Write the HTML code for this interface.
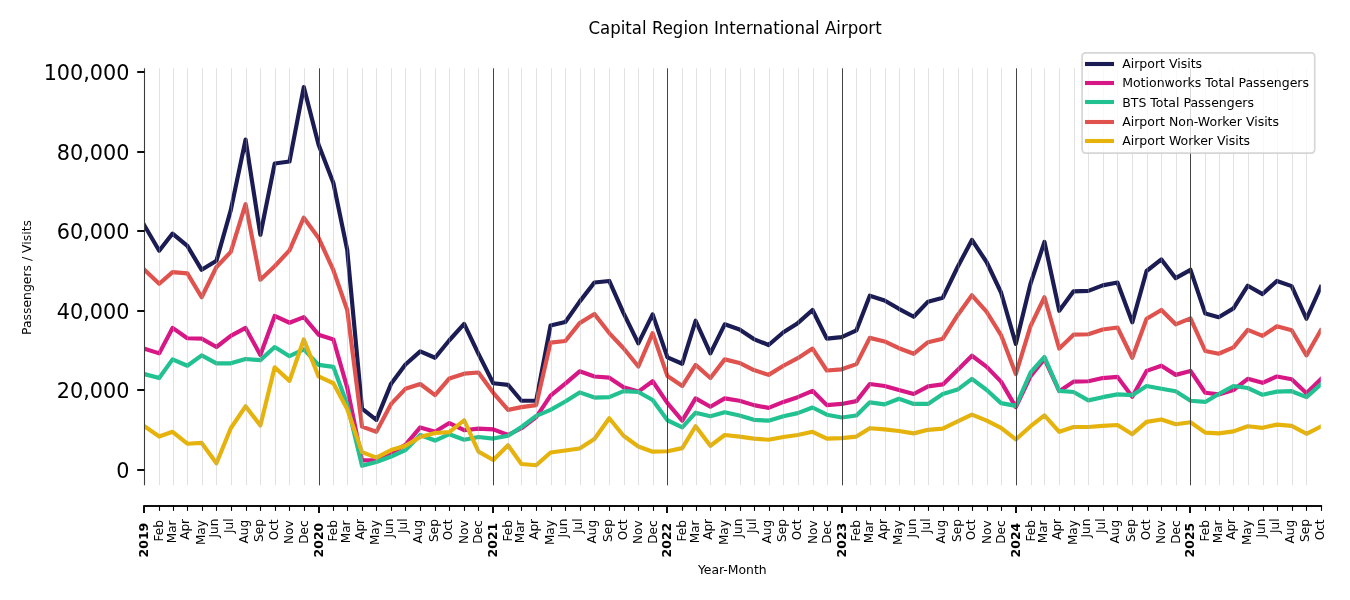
<!DOCTYPE html>
<html lang="en">
<head>
<meta charset="utf-8">
<title>Capital Region International Airport</title>
<style>
html,body{margin:0;padding:0;background:#fff;}
body{width:1350px;height:600px;overflow:hidden;}
svg{display:block;font-family:"DejaVu Sans", "Liberation Sans", sans-serif;}
text{fill:#000;}
.yt{font-size:20.78px;text-anchor:end;}
.xm{font-size:12.1px;text-anchor:end;}
.xM{font-size:12.5px;font-weight:bold;text-anchor:end;}
.lab{font-size:12.42px;text-anchor:middle;}
.ttl{font-size:16.58px;text-anchor:middle;}
.leg{font-size:12.5px;}
.ln{fill:none;stroke-width:4.17;stroke-linejoin:round;stroke-linecap:square;}
</style>
</head>
<body>
<svg width="1350" height="600" viewBox="0 0 1350 600">
<rect width="1350" height="600" fill="#fff"/>
<defs><clipPath id="ax"><rect x="144.4" y="68.3" width="1176.3799999999999" height="417.0"/></clipPath></defs>

<g clip-path="url(#ax)">
<polyline class="ln" stroke="#1c1c55" points="144.40,225.43 159.19,250.70 172.56,233.59 187.35,245.93 201.67,269.81 216.46,260.65 230.78,210.11 245.57,139.66 260.37,234.78 274.68,163.54 289.48,161.55 303.80,87.12 318.59,144.83 333.38,183.04 347.22,249.91 362.02,408.71 376.34,419.85 391.13,383.63 405.45,364.53 420.24,351.40 435.04,357.76 449.35,340.25 464.15,323.93 478.46,353.78 493.26,383.24 508.05,384.83 521.41,400.75 536.21,400.75 550.53,325.53 565.32,321.94 579.64,301.65 594.43,282.54 609.23,280.95 623.54,313.19 638.34,343.44 652.65,314.38 667.45,357.37 682.24,363.73 695.60,320.75 710.40,353.39 724.72,324.33 739.51,329.51 753.83,339.06 768.62,345.03 783.42,332.29 797.73,323.14 812.53,310.00 826.84,338.66 841.64,337.07 856.43,330.30 869.79,295.68 884.59,300.45 898.91,308.81 913.70,316.77 928.02,301.65 942.81,297.67 957.61,267.02 971.92,239.96 986.72,262.24 1001.03,292.49 1015.83,343.83 1030.62,283.34 1044.46,241.95 1059.26,310.80 1073.57,291.30 1088.37,290.90 1102.68,285.33 1117.48,282.54 1132.27,322.34 1146.59,271.00 1161.38,259.46 1175.70,278.16 1190.50,269.81 1205.29,313.59 1218.65,317.17 1233.45,308.41 1247.76,285.73 1262.56,294.08 1276.87,280.95 1291.67,286.12 1306.46,318.76 1320.78,286.92"/>
<polyline class="ln" stroke="#d71785" points="144.40,348.61 159.19,353.39 172.56,327.91 187.35,338.26 201.67,338.66 216.46,347.02 230.78,335.87 245.57,327.91 260.37,354.98 274.68,315.97 289.48,322.74 303.80,317.17 318.59,334.68 333.38,339.46 347.22,387.61 362.02,460.45 376.34,460.05 391.13,452.89 405.45,444.93 420.24,427.41 435.04,431.79 449.35,423.04 464.15,430.20 478.46,428.61 493.26,429.40 508.05,434.98 521.41,428.21 536.21,417.07 550.53,395.57 565.32,383.63 579.64,371.30 594.43,376.47 609.23,377.66 623.54,387.22 638.34,391.59 652.65,381.25 667.45,403.14 682.24,420.65 695.60,398.36 710.40,406.72 724.72,398.36 739.51,400.75 753.83,405.13 768.62,407.91 783.42,401.94 797.73,397.17 812.53,390.80 826.84,405.13 841.64,403.93 856.43,401.15 869.79,384.03 884.59,386.02 898.91,390.00 913.70,393.98 928.02,386.42 942.81,384.43 957.61,370.10 971.92,355.77 986.72,366.92 1001.03,381.64 1015.83,407.12 1030.62,376.07 1044.46,358.96 1059.26,391.20 1073.57,381.64 1088.37,381.25 1102.68,378.06 1117.48,376.87 1132.27,396.77 1146.59,370.90 1161.38,365.72 1175.70,374.88 1190.50,370.90 1205.29,392.79 1218.65,394.38 1233.45,390.00 1247.76,378.86 1262.56,382.84 1276.87,376.47 1291.67,379.26 1306.46,393.19 1320.78,379.26"/>
<polyline class="ln" stroke="#22c191" points="144.40,374.08 159.19,378.06 172.56,359.36 187.35,365.72 201.67,355.38 216.46,363.34 230.78,363.34 245.57,358.96 260.37,360.15 274.68,347.02 289.48,356.17 303.80,349.41 318.59,364.93 333.38,366.92 347.22,404.33 362.02,465.82 376.34,462.04 391.13,456.47 405.45,450.10 420.24,434.98 435.04,440.55 449.35,434.18 464.15,439.75 478.46,436.97 493.26,438.56 508.05,435.77 521.41,427.02 536.21,415.87 550.53,409.90 565.32,401.54 579.64,392.39 594.43,397.56 609.23,397.17 623.54,391.20 638.34,391.99 652.65,399.95 667.45,420.25 682.24,427.41 695.60,412.69 710.40,416.27 724.72,412.29 739.51,415.47 753.83,419.85 768.62,420.65 783.42,416.27 797.73,413.09 812.53,407.51 826.84,414.68 841.64,417.46 856.43,415.47 869.79,402.34 884.59,404.33 898.91,398.76 913.70,403.93 928.02,403.93 942.81,393.98 957.61,389.60 971.92,378.86 986.72,390.00 1001.03,403.14 1015.83,405.92 1030.62,372.49 1044.46,356.97 1059.26,390.80 1073.57,391.99 1088.37,400.35 1102.68,397.17 1117.48,394.38 1132.27,395.18 1146.59,386.02 1161.38,388.81 1175.70,391.20 1190.50,400.75 1205.29,401.94 1218.65,393.98 1233.45,386.02 1247.76,388.01 1262.56,394.78 1276.87,391.59 1291.67,391.20 1306.46,397.17 1320.78,384.43"/>
<polyline class="ln" stroke="#df524d" points="144.40,269.81 159.19,283.74 172.56,272.19 187.35,273.39 201.67,297.27 216.46,267.02 230.78,251.90 245.57,204.14 260.37,279.76 274.68,266.22 289.48,250.30 303.80,217.67 318.59,237.97 333.38,270.20 347.22,310.00 362.02,426.62 376.34,431.79 391.13,403.93 405.45,388.81 420.24,384.03 435.04,395.18 449.35,378.46 464.15,373.68 478.46,372.49 493.26,392.79 508.05,409.90 521.41,407.12 536.21,405.13 550.53,342.64 565.32,341.05 579.64,323.14 594.43,313.98 609.23,333.09 623.54,348.21 638.34,366.52 652.65,333.09 667.45,376.07 682.24,386.02 695.60,364.93 710.40,378.06 724.72,359.36 739.51,362.94 753.83,370.10 768.62,374.88 783.42,365.72 797.73,358.16 812.53,348.61 826.84,370.50 841.64,369.31 856.43,364.13 869.79,337.86 884.59,341.45 898.91,348.21 913.70,353.78 928.02,342.24 942.81,338.66 957.61,315.18 971.92,295.28 986.72,311.99 1001.03,335.08 1015.83,374.08 1030.62,325.92 1044.46,297.27 1059.26,348.61 1073.57,334.68 1088.37,334.28 1102.68,329.51 1117.48,327.52 1132.27,357.76 1146.59,318.76 1161.38,310.00 1175.70,324.33 1190.50,318.36 1205.29,351.00 1218.65,353.78 1233.45,347.42 1247.76,329.90 1262.56,335.87 1276.87,326.32 1291.67,330.30 1306.46,355.38 1320.78,330.30"/>
<polyline class="ln" stroke="#e6b30c" points="144.40,426.22 159.19,436.57 172.56,431.79 187.35,443.73 201.67,442.94 216.46,463.23 230.78,428.21 245.57,406.32 260.37,425.42 274.68,367.32 289.48,380.85 303.80,339.46 318.59,376.47 333.38,383.24 347.22,409.11 362.02,452.09 376.34,457.66 391.13,450.10 405.45,445.72 420.24,436.97 435.04,432.99 449.35,432.19 464.15,420.25 478.46,451.69 493.26,460.05 508.05,445.32 521.41,464.03 536.21,465.22 550.53,452.49 565.32,450.50 579.64,448.51 594.43,438.96 609.23,418.26 623.54,435.77 638.34,446.52 652.65,451.69 667.45,451.29 682.24,448.11 695.60,426.22 710.40,445.72 724.72,434.98 739.51,436.57 753.83,438.56 768.62,439.75 783.42,436.97 797.73,434.98 812.53,431.79 826.84,438.56 841.64,438.16 856.43,436.57 869.79,428.21 884.59,429.40 898.91,431.00 913.70,433.38 928.02,429.80 942.81,428.61 957.61,421.44 971.92,414.68 986.72,420.65 1001.03,427.81 1015.83,439.35 1030.62,426.22 1044.46,415.47 1059.26,431.79 1073.57,427.02 1088.37,427.02 1102.68,425.82 1117.48,425.03 1132.27,434.18 1146.59,421.84 1161.38,419.45 1175.70,424.23 1190.50,422.24 1205.29,432.59 1218.65,433.38 1233.45,431.39 1247.76,426.22 1262.56,427.81 1276.87,424.63 1291.67,425.82 1306.46,433.78 1320.78,426.62"/>
</g>
<g id="grid">
<line x1="159.5" x2="159.5" y1="68.3" y2="485.3" stroke="#b0b0b0" stroke-width="1" stroke-opacity="0.36"/>
<line x1="173.5" x2="173.5" y1="68.3" y2="485.3" stroke="#b0b0b0" stroke-width="1" stroke-opacity="0.36"/>
<line x1="187.5" x2="187.5" y1="68.3" y2="485.3" stroke="#b0b0b0" stroke-width="1" stroke-opacity="0.36"/>
<line x1="202.5" x2="202.5" y1="68.3" y2="485.3" stroke="#b0b0b0" stroke-width="1" stroke-opacity="0.36"/>
<line x1="216.5" x2="216.5" y1="68.3" y2="485.3" stroke="#b0b0b0" stroke-width="1" stroke-opacity="0.36"/>
<line x1="231.5" x2="231.5" y1="68.3" y2="485.3" stroke="#b0b0b0" stroke-width="1" stroke-opacity="0.36"/>
<line x1="246.5" x2="246.5" y1="68.3" y2="485.3" stroke="#b0b0b0" stroke-width="1" stroke-opacity="0.36"/>
<line x1="260.5" x2="260.5" y1="68.3" y2="485.3" stroke="#b0b0b0" stroke-width="1" stroke-opacity="0.36"/>
<line x1="275.5" x2="275.5" y1="68.3" y2="485.3" stroke="#b0b0b0" stroke-width="1" stroke-opacity="0.36"/>
<line x1="289.5" x2="289.5" y1="68.3" y2="485.3" stroke="#b0b0b0" stroke-width="1" stroke-opacity="0.36"/>
<line x1="304.5" x2="304.5" y1="68.3" y2="485.3" stroke="#b0b0b0" stroke-width="1" stroke-opacity="0.36"/>
<line x1="319.5" x2="319.5" y1="68.3" y2="485.3" stroke="#444" stroke-width="1"/>
<line x1="333.5" x2="333.5" y1="68.3" y2="485.3" stroke="#b0b0b0" stroke-width="1" stroke-opacity="0.36"/>
<line x1="347.5" x2="347.5" y1="68.3" y2="485.3" stroke="#b0b0b0" stroke-width="1" stroke-opacity="0.36"/>
<line x1="362.5" x2="362.5" y1="68.3" y2="485.3" stroke="#b0b0b0" stroke-width="1" stroke-opacity="0.36"/>
<line x1="376.5" x2="376.5" y1="68.3" y2="485.3" stroke="#b0b0b0" stroke-width="1" stroke-opacity="0.36"/>
<line x1="391.5" x2="391.5" y1="68.3" y2="485.3" stroke="#b0b0b0" stroke-width="1" stroke-opacity="0.36"/>
<line x1="405.5" x2="405.5" y1="68.3" y2="485.3" stroke="#b0b0b0" stroke-width="1" stroke-opacity="0.36"/>
<line x1="420.5" x2="420.5" y1="68.3" y2="485.3" stroke="#b0b0b0" stroke-width="1" stroke-opacity="0.36"/>
<line x1="435.5" x2="435.5" y1="68.3" y2="485.3" stroke="#b0b0b0" stroke-width="1" stroke-opacity="0.36"/>
<line x1="449.5" x2="449.5" y1="68.3" y2="485.3" stroke="#b0b0b0" stroke-width="1" stroke-opacity="0.36"/>
<line x1="464.5" x2="464.5" y1="68.3" y2="485.3" stroke="#b0b0b0" stroke-width="1" stroke-opacity="0.36"/>
<line x1="478.5" x2="478.5" y1="68.3" y2="485.3" stroke="#b0b0b0" stroke-width="1" stroke-opacity="0.36"/>
<line x1="493.5" x2="493.5" y1="68.3" y2="485.3" stroke="#444" stroke-width="1"/>
<line x1="508.5" x2="508.5" y1="68.3" y2="485.3" stroke="#b0b0b0" stroke-width="1" stroke-opacity="0.36"/>
<line x1="521.5" x2="521.5" y1="68.3" y2="485.3" stroke="#b0b0b0" stroke-width="1" stroke-opacity="0.36"/>
<line x1="536.5" x2="536.5" y1="68.3" y2="485.3" stroke="#b0b0b0" stroke-width="1" stroke-opacity="0.36"/>
<line x1="551.5" x2="551.5" y1="68.3" y2="485.3" stroke="#b0b0b0" stroke-width="1" stroke-opacity="0.36"/>
<line x1="565.5" x2="565.5" y1="68.3" y2="485.3" stroke="#b0b0b0" stroke-width="1" stroke-opacity="0.36"/>
<line x1="580.5" x2="580.5" y1="68.3" y2="485.3" stroke="#b0b0b0" stroke-width="1" stroke-opacity="0.36"/>
<line x1="594.5" x2="594.5" y1="68.3" y2="485.3" stroke="#b0b0b0" stroke-width="1" stroke-opacity="0.36"/>
<line x1="609.5" x2="609.5" y1="68.3" y2="485.3" stroke="#b0b0b0" stroke-width="1" stroke-opacity="0.36"/>
<line x1="624.5" x2="624.5" y1="68.3" y2="485.3" stroke="#b0b0b0" stroke-width="1" stroke-opacity="0.36"/>
<line x1="638.5" x2="638.5" y1="68.3" y2="485.3" stroke="#b0b0b0" stroke-width="1" stroke-opacity="0.36"/>
<line x1="653.5" x2="653.5" y1="68.3" y2="485.3" stroke="#b0b0b0" stroke-width="1" stroke-opacity="0.36"/>
<line x1="667.5" x2="667.5" y1="68.3" y2="485.3" stroke="#444" stroke-width="1"/>
<line x1="682.5" x2="682.5" y1="68.3" y2="485.3" stroke="#b0b0b0" stroke-width="1" stroke-opacity="0.36"/>
<line x1="696.5" x2="696.5" y1="68.3" y2="485.3" stroke="#b0b0b0" stroke-width="1" stroke-opacity="0.36"/>
<line x1="710.5" x2="710.5" y1="68.3" y2="485.3" stroke="#b0b0b0" stroke-width="1" stroke-opacity="0.36"/>
<line x1="725.5" x2="725.5" y1="68.3" y2="485.3" stroke="#b0b0b0" stroke-width="1" stroke-opacity="0.36"/>
<line x1="740.5" x2="740.5" y1="68.3" y2="485.3" stroke="#b0b0b0" stroke-width="1" stroke-opacity="0.36"/>
<line x1="754.5" x2="754.5" y1="68.3" y2="485.3" stroke="#b0b0b0" stroke-width="1" stroke-opacity="0.36"/>
<line x1="769.5" x2="769.5" y1="68.3" y2="485.3" stroke="#b0b0b0" stroke-width="1" stroke-opacity="0.36"/>
<line x1="783.5" x2="783.5" y1="68.3" y2="485.3" stroke="#b0b0b0" stroke-width="1" stroke-opacity="0.36"/>
<line x1="798.5" x2="798.5" y1="68.3" y2="485.3" stroke="#b0b0b0" stroke-width="1" stroke-opacity="0.36"/>
<line x1="813.5" x2="813.5" y1="68.3" y2="485.3" stroke="#b0b0b0" stroke-width="1" stroke-opacity="0.36"/>
<line x1="827.5" x2="827.5" y1="68.3" y2="485.3" stroke="#b0b0b0" stroke-width="1" stroke-opacity="0.36"/>
<line x1="842.5" x2="842.5" y1="68.3" y2="485.3" stroke="#444" stroke-width="1"/>
<line x1="856.5" x2="856.5" y1="68.3" y2="485.3" stroke="#b0b0b0" stroke-width="1" stroke-opacity="0.36"/>
<line x1="870.5" x2="870.5" y1="68.3" y2="485.3" stroke="#b0b0b0" stroke-width="1" stroke-opacity="0.36"/>
<line x1="885.5" x2="885.5" y1="68.3" y2="485.3" stroke="#b0b0b0" stroke-width="1" stroke-opacity="0.36"/>
<line x1="899.5" x2="899.5" y1="68.3" y2="485.3" stroke="#b0b0b0" stroke-width="1" stroke-opacity="0.36"/>
<line x1="914.5" x2="914.5" y1="68.3" y2="485.3" stroke="#b0b0b0" stroke-width="1" stroke-opacity="0.36"/>
<line x1="928.5" x2="928.5" y1="68.3" y2="485.3" stroke="#b0b0b0" stroke-width="1" stroke-opacity="0.36"/>
<line x1="943.5" x2="943.5" y1="68.3" y2="485.3" stroke="#b0b0b0" stroke-width="1" stroke-opacity="0.36"/>
<line x1="958.5" x2="958.5" y1="68.3" y2="485.3" stroke="#b0b0b0" stroke-width="1" stroke-opacity="0.36"/>
<line x1="972.5" x2="972.5" y1="68.3" y2="485.3" stroke="#b0b0b0" stroke-width="1" stroke-opacity="0.36"/>
<line x1="987.5" x2="987.5" y1="68.3" y2="485.3" stroke="#b0b0b0" stroke-width="1" stroke-opacity="0.36"/>
<line x1="1001.5" x2="1001.5" y1="68.3" y2="485.3" stroke="#b0b0b0" stroke-width="1" stroke-opacity="0.36"/>
<line x1="1016.5" x2="1016.5" y1="68.3" y2="485.3" stroke="#444" stroke-width="1"/>
<line x1="1031.5" x2="1031.5" y1="68.3" y2="485.3" stroke="#b0b0b0" stroke-width="1" stroke-opacity="0.36"/>
<line x1="1044.5" x2="1044.5" y1="68.3" y2="485.3" stroke="#b0b0b0" stroke-width="1" stroke-opacity="0.36"/>
<line x1="1059.5" x2="1059.5" y1="68.3" y2="485.3" stroke="#b0b0b0" stroke-width="1" stroke-opacity="0.36"/>
<line x1="1074.5" x2="1074.5" y1="68.3" y2="485.3" stroke="#b0b0b0" stroke-width="1" stroke-opacity="0.36"/>
<line x1="1088.5" x2="1088.5" y1="68.3" y2="485.3" stroke="#b0b0b0" stroke-width="1" stroke-opacity="0.36"/>
<line x1="1103.5" x2="1103.5" y1="68.3" y2="485.3" stroke="#b0b0b0" stroke-width="1" stroke-opacity="0.36"/>
<line x1="1117.5" x2="1117.5" y1="68.3" y2="485.3" stroke="#b0b0b0" stroke-width="1" stroke-opacity="0.36"/>
<line x1="1132.5" x2="1132.5" y1="68.3" y2="485.3" stroke="#b0b0b0" stroke-width="1" stroke-opacity="0.36"/>
<line x1="1147.5" x2="1147.5" y1="68.3" y2="485.3" stroke="#b0b0b0" stroke-width="1" stroke-opacity="0.36"/>
<line x1="1161.5" x2="1161.5" y1="68.3" y2="485.3" stroke="#b0b0b0" stroke-width="1" stroke-opacity="0.36"/>
<line x1="1176.5" x2="1176.5" y1="68.3" y2="485.3" stroke="#b0b0b0" stroke-width="1" stroke-opacity="0.36"/>
<line x1="1190.5" x2="1190.5" y1="68.3" y2="485.3" stroke="#444" stroke-width="1"/>
<line x1="1205.5" x2="1205.5" y1="68.3" y2="485.3" stroke="#b0b0b0" stroke-width="1" stroke-opacity="0.36"/>
<line x1="1219.5" x2="1219.5" y1="68.3" y2="485.3" stroke="#b0b0b0" stroke-width="1" stroke-opacity="0.36"/>
<line x1="1233.5" x2="1233.5" y1="68.3" y2="485.3" stroke="#b0b0b0" stroke-width="1" stroke-opacity="0.36"/>
<line x1="1248.5" x2="1248.5" y1="68.3" y2="485.3" stroke="#b0b0b0" stroke-width="1" stroke-opacity="0.36"/>
<line x1="1263.5" x2="1263.5" y1="68.3" y2="485.3" stroke="#b0b0b0" stroke-width="1" stroke-opacity="0.36"/>
<line x1="1277.5" x2="1277.5" y1="68.3" y2="485.3" stroke="#b0b0b0" stroke-width="1" stroke-opacity="0.36"/>
<line x1="1292.5" x2="1292.5" y1="68.3" y2="485.3" stroke="#b0b0b0" stroke-width="1" stroke-opacity="0.36"/>
<line x1="1306.5" x2="1306.5" y1="68.3" y2="485.3" stroke="#b0b0b0" stroke-width="1" stroke-opacity="0.36"/>
</g>
<line x1="144.5" x2="144.5" y1="68.3" y2="485.3" stroke="#3c3c3c" stroke-width="1.1"/>
<line x1="137.2" x2="144.5" y1="470.00" y2="470.00" stroke="#0e0e0e" stroke-width="2"/>
<text class="yt" x="129.5" y="477.80">0</text>
<line x1="137.2" x2="144.5" y1="390.00" y2="390.00" stroke="#0e0e0e" stroke-width="2"/>
<text class="yt" x="129.5" y="397.80">20,000</text>
<line x1="137.2" x2="144.5" y1="311.00" y2="311.00" stroke="#0e0e0e" stroke-width="2"/>
<text class="yt" x="129.5" y="318.80">40,000</text>
<line x1="137.2" x2="144.5" y1="231.00" y2="231.00" stroke="#0e0e0e" stroke-width="2"/>
<text class="yt" x="129.5" y="238.80">60,000</text>
<line x1="137.2" x2="144.5" y1="152.00" y2="152.00" stroke="#0e0e0e" stroke-width="2"/>
<text class="yt" x="129.5" y="159.80">80,000</text>
<line x1="137.2" x2="144.5" y1="72.00" y2="72.00" stroke="#0e0e0e" stroke-width="2"/>
<text class="yt" x="129.5" y="79.80">100,000</text>
<line x1="143.2" x2="1322.1" y1="506.0" y2="506.0" stroke="#0e0e0e" stroke-width="2"/>
<line x1="144" x2="144" y1="506.0" y2="513.0" stroke="#0e0e0e" stroke-width="2"/>
<text class="xM" transform="translate(147.65,522.7) rotate(-90)">2019</text>
<line x1="159.50" x2="159.50" y1="506.0" y2="510.85" stroke="#000" stroke-width="1.1"/>
<text class="xm" transform="translate(162.60,520.10) rotate(-90)">Feb</text>
<line x1="173.50" x2="173.50" y1="506.0" y2="510.85" stroke="#000" stroke-width="1.1"/>
<text class="xm" transform="translate(176.10,520.40) rotate(-90)">Mar</text>
<line x1="187.50" x2="187.50" y1="506.0" y2="510.85" stroke="#000" stroke-width="1.1"/>
<text class="xm" transform="translate(189.40,518.90) rotate(-90)">Apr</text>
<line x1="202.50" x2="202.50" y1="506.0" y2="510.85" stroke="#000" stroke-width="1.1"/>
<text class="xm" transform="translate(205.10,520.10) rotate(-90)">May</text>
<line x1="216.50" x2="216.50" y1="506.0" y2="510.85" stroke="#000" stroke-width="1.1"/>
<text class="xm" transform="translate(217.50,518.60) rotate(-90)">Jun</text>
<line x1="231.50" x2="231.50" y1="506.0" y2="510.85" stroke="#000" stroke-width="1.1"/>
<text class="xm" transform="translate(232.50,518.40) rotate(-90)">Jul</text>
<line x1="246.50" x2="246.50" y1="506.0" y2="510.85" stroke="#000" stroke-width="1.1"/>
<text class="xm" transform="translate(248.30,519.80) rotate(-90)">Aug</text>
<line x1="260.50" x2="260.50" y1="506.0" y2="510.85" stroke="#000" stroke-width="1.1"/>
<text class="xm" transform="translate(263.10,519.10) rotate(-90)">Sep</text>
<line x1="275.50" x2="275.50" y1="506.0" y2="510.85" stroke="#000" stroke-width="1.1"/>
<text class="xm" transform="translate(278.10,519.40) rotate(-90)">Oct</text>
<line x1="289.50" x2="289.50" y1="506.0" y2="510.85" stroke="#000" stroke-width="1.1"/>
<text class="xm" transform="translate(292.60,520.40) rotate(-90)">Nov</text>
<line x1="304.50" x2="304.50" y1="506.0" y2="510.85" stroke="#000" stroke-width="1.1"/>
<text class="xm" transform="translate(307.60,520.40) rotate(-90)">Dec</text>
<line x1="319" x2="319" y1="506.0" y2="513.0" stroke="#0e0e0e" stroke-width="2"/>
<text class="xM" transform="translate(322.65,522.7) rotate(-90)">2020</text>
<line x1="333.50" x2="333.50" y1="506.0" y2="510.85" stroke="#000" stroke-width="1.1"/>
<text class="xm" transform="translate(336.60,520.10) rotate(-90)">Feb</text>
<line x1="347.50" x2="347.50" y1="506.0" y2="510.85" stroke="#000" stroke-width="1.1"/>
<text class="xm" transform="translate(350.10,520.40) rotate(-90)">Mar</text>
<line x1="362.50" x2="362.50" y1="506.0" y2="510.85" stroke="#000" stroke-width="1.1"/>
<text class="xm" transform="translate(364.40,518.90) rotate(-90)">Apr</text>
<line x1="376.50" x2="376.50" y1="506.0" y2="510.85" stroke="#000" stroke-width="1.1"/>
<text class="xm" transform="translate(379.10,520.10) rotate(-90)">May</text>
<line x1="391.50" x2="391.50" y1="506.0" y2="510.85" stroke="#000" stroke-width="1.1"/>
<text class="xm" transform="translate(392.50,518.60) rotate(-90)">Jun</text>
<line x1="405.50" x2="405.50" y1="506.0" y2="510.85" stroke="#000" stroke-width="1.1"/>
<text class="xm" transform="translate(406.50,518.40) rotate(-90)">Jul</text>
<line x1="420.50" x2="420.50" y1="506.0" y2="510.85" stroke="#000" stroke-width="1.1"/>
<text class="xm" transform="translate(422.30,519.80) rotate(-90)">Aug</text>
<line x1="435.50" x2="435.50" y1="506.0" y2="510.85" stroke="#000" stroke-width="1.1"/>
<text class="xm" transform="translate(438.10,519.10) rotate(-90)">Sep</text>
<line x1="449.50" x2="449.50" y1="506.0" y2="510.85" stroke="#000" stroke-width="1.1"/>
<text class="xm" transform="translate(452.10,519.40) rotate(-90)">Oct</text>
<line x1="464.50" x2="464.50" y1="506.0" y2="510.85" stroke="#000" stroke-width="1.1"/>
<text class="xm" transform="translate(467.60,520.40) rotate(-90)">Nov</text>
<line x1="478.50" x2="478.50" y1="506.0" y2="510.85" stroke="#000" stroke-width="1.1"/>
<text class="xm" transform="translate(481.60,520.40) rotate(-90)">Dec</text>
<line x1="493" x2="493" y1="506.0" y2="513.0" stroke="#0e0e0e" stroke-width="2"/>
<text class="xM" transform="translate(496.65,522.7) rotate(-90)">2021</text>
<line x1="508.50" x2="508.50" y1="506.0" y2="510.85" stroke="#000" stroke-width="1.1"/>
<text class="xm" transform="translate(511.60,520.10) rotate(-90)">Feb</text>
<line x1="521.50" x2="521.50" y1="506.0" y2="510.85" stroke="#000" stroke-width="1.1"/>
<text class="xm" transform="translate(524.10,520.40) rotate(-90)">Mar</text>
<line x1="536.50" x2="536.50" y1="506.0" y2="510.85" stroke="#000" stroke-width="1.1"/>
<text class="xm" transform="translate(538.40,518.90) rotate(-90)">Apr</text>
<line x1="551.50" x2="551.50" y1="506.0" y2="510.85" stroke="#000" stroke-width="1.1"/>
<text class="xm" transform="translate(554.10,520.10) rotate(-90)">May</text>
<line x1="565.50" x2="565.50" y1="506.0" y2="510.85" stroke="#000" stroke-width="1.1"/>
<text class="xm" transform="translate(566.50,518.60) rotate(-90)">Jun</text>
<line x1="580.50" x2="580.50" y1="506.0" y2="510.85" stroke="#000" stroke-width="1.1"/>
<text class="xm" transform="translate(581.50,518.40) rotate(-90)">Jul</text>
<line x1="594.50" x2="594.50" y1="506.0" y2="510.85" stroke="#000" stroke-width="1.1"/>
<text class="xm" transform="translate(596.30,519.80) rotate(-90)">Aug</text>
<line x1="609.50" x2="609.50" y1="506.0" y2="510.85" stroke="#000" stroke-width="1.1"/>
<text class="xm" transform="translate(612.10,519.10) rotate(-90)">Sep</text>
<line x1="624.50" x2="624.50" y1="506.0" y2="510.85" stroke="#000" stroke-width="1.1"/>
<text class="xm" transform="translate(627.10,519.40) rotate(-90)">Oct</text>
<line x1="638.50" x2="638.50" y1="506.0" y2="510.85" stroke="#000" stroke-width="1.1"/>
<text class="xm" transform="translate(641.60,520.40) rotate(-90)">Nov</text>
<line x1="653.50" x2="653.50" y1="506.0" y2="510.85" stroke="#000" stroke-width="1.1"/>
<text class="xm" transform="translate(656.60,520.40) rotate(-90)">Dec</text>
<line x1="667" x2="667" y1="506.0" y2="513.0" stroke="#0e0e0e" stroke-width="2"/>
<text class="xM" transform="translate(670.65,522.7) rotate(-90)">2022</text>
<line x1="682.50" x2="682.50" y1="506.0" y2="510.85" stroke="#000" stroke-width="1.1"/>
<text class="xm" transform="translate(685.60,520.10) rotate(-90)">Feb</text>
<line x1="696.50" x2="696.50" y1="506.0" y2="510.85" stroke="#000" stroke-width="1.1"/>
<text class="xm" transform="translate(699.10,520.40) rotate(-90)">Mar</text>
<line x1="710.50" x2="710.50" y1="506.0" y2="510.85" stroke="#000" stroke-width="1.1"/>
<text class="xm" transform="translate(712.40,518.90) rotate(-90)">Apr</text>
<line x1="725.50" x2="725.50" y1="506.0" y2="510.85" stroke="#000" stroke-width="1.1"/>
<text class="xm" transform="translate(728.10,520.10) rotate(-90)">May</text>
<line x1="740.50" x2="740.50" y1="506.0" y2="510.85" stroke="#000" stroke-width="1.1"/>
<text class="xm" transform="translate(741.50,518.60) rotate(-90)">Jun</text>
<line x1="754.50" x2="754.50" y1="506.0" y2="510.85" stroke="#000" stroke-width="1.1"/>
<text class="xm" transform="translate(755.50,518.40) rotate(-90)">Jul</text>
<line x1="769.50" x2="769.50" y1="506.0" y2="510.85" stroke="#000" stroke-width="1.1"/>
<text class="xm" transform="translate(771.30,519.80) rotate(-90)">Aug</text>
<line x1="783.50" x2="783.50" y1="506.0" y2="510.85" stroke="#000" stroke-width="1.1"/>
<text class="xm" transform="translate(786.10,519.10) rotate(-90)">Sep</text>
<line x1="798.50" x2="798.50" y1="506.0" y2="510.85" stroke="#000" stroke-width="1.1"/>
<text class="xm" transform="translate(801.10,519.40) rotate(-90)">Oct</text>
<line x1="813.50" x2="813.50" y1="506.0" y2="510.85" stroke="#000" stroke-width="1.1"/>
<text class="xm" transform="translate(816.60,520.40) rotate(-90)">Nov</text>
<line x1="827.50" x2="827.50" y1="506.0" y2="510.85" stroke="#000" stroke-width="1.1"/>
<text class="xm" transform="translate(830.60,520.40) rotate(-90)">Dec</text>
<line x1="842" x2="842" y1="506.0" y2="513.0" stroke="#0e0e0e" stroke-width="2"/>
<text class="xM" transform="translate(845.65,522.7) rotate(-90)">2023</text>
<line x1="856.50" x2="856.50" y1="506.0" y2="510.85" stroke="#000" stroke-width="1.1"/>
<text class="xm" transform="translate(859.60,520.10) rotate(-90)">Feb</text>
<line x1="870.50" x2="870.50" y1="506.0" y2="510.85" stroke="#000" stroke-width="1.1"/>
<text class="xm" transform="translate(873.10,520.40) rotate(-90)">Mar</text>
<line x1="885.50" x2="885.50" y1="506.0" y2="510.85" stroke="#000" stroke-width="1.1"/>
<text class="xm" transform="translate(887.40,518.90) rotate(-90)">Apr</text>
<line x1="899.50" x2="899.50" y1="506.0" y2="510.85" stroke="#000" stroke-width="1.1"/>
<text class="xm" transform="translate(902.10,520.10) rotate(-90)">May</text>
<line x1="914.50" x2="914.50" y1="506.0" y2="510.85" stroke="#000" stroke-width="1.1"/>
<text class="xm" transform="translate(915.50,518.60) rotate(-90)">Jun</text>
<line x1="928.50" x2="928.50" y1="506.0" y2="510.85" stroke="#000" stroke-width="1.1"/>
<text class="xm" transform="translate(929.50,518.40) rotate(-90)">Jul</text>
<line x1="943.50" x2="943.50" y1="506.0" y2="510.85" stroke="#000" stroke-width="1.1"/>
<text class="xm" transform="translate(945.30,519.80) rotate(-90)">Aug</text>
<line x1="958.50" x2="958.50" y1="506.0" y2="510.85" stroke="#000" stroke-width="1.1"/>
<text class="xm" transform="translate(961.10,519.10) rotate(-90)">Sep</text>
<line x1="972.50" x2="972.50" y1="506.0" y2="510.85" stroke="#000" stroke-width="1.1"/>
<text class="xm" transform="translate(975.10,519.40) rotate(-90)">Oct</text>
<line x1="987.50" x2="987.50" y1="506.0" y2="510.85" stroke="#000" stroke-width="1.1"/>
<text class="xm" transform="translate(990.60,520.40) rotate(-90)">Nov</text>
<line x1="1001.50" x2="1001.50" y1="506.0" y2="510.85" stroke="#000" stroke-width="1.1"/>
<text class="xm" transform="translate(1004.60,520.40) rotate(-90)">Dec</text>
<line x1="1016" x2="1016" y1="506.0" y2="513.0" stroke="#0e0e0e" stroke-width="2"/>
<text class="xM" transform="translate(1019.65,522.7) rotate(-90)">2024</text>
<line x1="1031.50" x2="1031.50" y1="506.0" y2="510.85" stroke="#000" stroke-width="1.1"/>
<text class="xm" transform="translate(1034.60,520.10) rotate(-90)">Feb</text>
<line x1="1044.50" x2="1044.50" y1="506.0" y2="510.85" stroke="#000" stroke-width="1.1"/>
<text class="xm" transform="translate(1047.10,520.40) rotate(-90)">Mar</text>
<line x1="1059.50" x2="1059.50" y1="506.0" y2="510.85" stroke="#000" stroke-width="1.1"/>
<text class="xm" transform="translate(1061.40,518.90) rotate(-90)">Apr</text>
<line x1="1074.50" x2="1074.50" y1="506.0" y2="510.85" stroke="#000" stroke-width="1.1"/>
<text class="xm" transform="translate(1077.10,520.10) rotate(-90)">May</text>
<line x1="1088.50" x2="1088.50" y1="506.0" y2="510.85" stroke="#000" stroke-width="1.1"/>
<text class="xm" transform="translate(1089.50,518.60) rotate(-90)">Jun</text>
<line x1="1103.50" x2="1103.50" y1="506.0" y2="510.85" stroke="#000" stroke-width="1.1"/>
<text class="xm" transform="translate(1104.50,518.40) rotate(-90)">Jul</text>
<line x1="1117.50" x2="1117.50" y1="506.0" y2="510.85" stroke="#000" stroke-width="1.1"/>
<text class="xm" transform="translate(1119.30,519.80) rotate(-90)">Aug</text>
<line x1="1132.50" x2="1132.50" y1="506.0" y2="510.85" stroke="#000" stroke-width="1.1"/>
<text class="xm" transform="translate(1135.10,519.10) rotate(-90)">Sep</text>
<line x1="1147.50" x2="1147.50" y1="506.0" y2="510.85" stroke="#000" stroke-width="1.1"/>
<text class="xm" transform="translate(1150.10,519.40) rotate(-90)">Oct</text>
<line x1="1161.50" x2="1161.50" y1="506.0" y2="510.85" stroke="#000" stroke-width="1.1"/>
<text class="xm" transform="translate(1164.60,520.40) rotate(-90)">Nov</text>
<line x1="1176.50" x2="1176.50" y1="506.0" y2="510.85" stroke="#000" stroke-width="1.1"/>
<text class="xm" transform="translate(1179.60,520.40) rotate(-90)">Dec</text>
<line x1="1190" x2="1190" y1="506.0" y2="513.0" stroke="#0e0e0e" stroke-width="2"/>
<text class="xM" transform="translate(1193.65,522.7) rotate(-90)">2025</text>
<line x1="1205.50" x2="1205.50" y1="506.0" y2="510.85" stroke="#000" stroke-width="1.1"/>
<text class="xm" transform="translate(1208.60,520.10) rotate(-90)">Feb</text>
<line x1="1219.50" x2="1219.50" y1="506.0" y2="510.85" stroke="#000" stroke-width="1.1"/>
<text class="xm" transform="translate(1222.10,520.40) rotate(-90)">Mar</text>
<line x1="1233.50" x2="1233.50" y1="506.0" y2="510.85" stroke="#000" stroke-width="1.1"/>
<text class="xm" transform="translate(1235.40,518.90) rotate(-90)">Apr</text>
<line x1="1248.50" x2="1248.50" y1="506.0" y2="510.85" stroke="#000" stroke-width="1.1"/>
<text class="xm" transform="translate(1251.10,520.10) rotate(-90)">May</text>
<line x1="1263.50" x2="1263.50" y1="506.0" y2="510.85" stroke="#000" stroke-width="1.1"/>
<text class="xm" transform="translate(1264.50,518.60) rotate(-90)">Jun</text>
<line x1="1277.50" x2="1277.50" y1="506.0" y2="510.85" stroke="#000" stroke-width="1.1"/>
<text class="xm" transform="translate(1278.50,518.40) rotate(-90)">Jul</text>
<line x1="1292.50" x2="1292.50" y1="506.0" y2="510.85" stroke="#000" stroke-width="1.1"/>
<text class="xm" transform="translate(1294.30,519.80) rotate(-90)">Aug</text>
<line x1="1306.50" x2="1306.50" y1="506.0" y2="510.85" stroke="#000" stroke-width="1.1"/>
<text class="xm" transform="translate(1309.10,519.10) rotate(-90)">Sep</text>
<line x1="1321.50" x2="1321.50" y1="506.0" y2="510.85" stroke="#000" stroke-width="1.1"/>
<text class="xm" transform="translate(1324.10,519.40) rotate(-90)">Oct</text>
<text class="lab" x="732.3" y="574">Year-Month</text>
<text class="lab" transform="translate(30.8,277.5) rotate(-90)">Passengers / Visits</text>
<text class="ttl" transform="translate(735.1,34.1) scale(1,1.08)">Capital Region International Airport</text>
<rect x="1082.1" y="52.9" width="232.6" height="100.2" rx="3.3" ry="3.3" fill="#fff" fill-opacity="0.8" stroke="#ccc" stroke-opacity="0.8" stroke-width="1.7"/>
<line x1="1085" x2="1114" y1="64.00" y2="64.00" stroke="#1c1c55" stroke-width="4.1"/>
<text class="leg" x="1122.2" y="68.40">Airport Visits</text>
<line x1="1085" x2="1114" y1="83.00" y2="83.00" stroke="#d71785" stroke-width="4.1"/>
<text class="leg" x="1122.2" y="87.40">Motionworks Total Passengers</text>
<line x1="1085" x2="1114" y1="102.00" y2="102.00" stroke="#22c191" stroke-width="4.1"/>
<text class="leg" x="1122.2" y="107.10">BTS Total Passengers</text>
<line x1="1085" x2="1114" y1="122.00" y2="122.00" stroke="#df524d" stroke-width="4.1"/>
<text class="leg" x="1122.2" y="126.40">Airport Non-Worker Visits</text>
<line x1="1085" x2="1114" y1="141.00" y2="141.00" stroke="#e6b30c" stroke-width="4.1"/>
<text class="leg" x="1122.2" y="145.40">Airport Worker Visits</text>
</svg>
</body>
</html>
